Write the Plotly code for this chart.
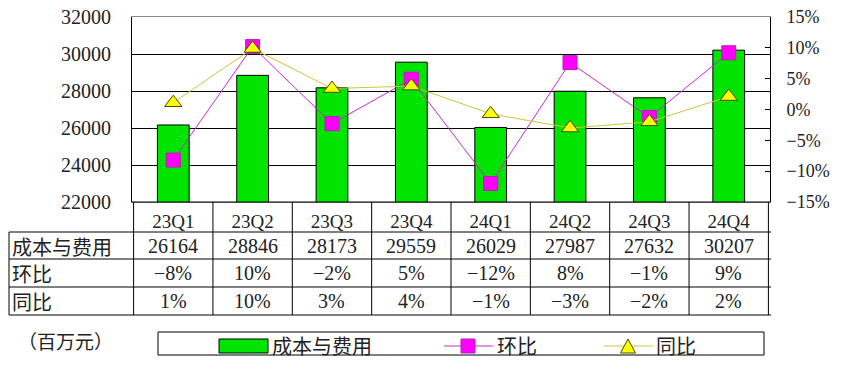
import plotly.graph_objects as go

W, H = 847, 375

quarters = ["23Q1", "23Q2", "23Q3", "23Q4", "24Q1", "24Q2", "24Q3", "24Q4"]
cost = [26164, 28846, 28173, 29559, 26029, 27987, 27632, 30207]
qoq = [-8.2, 10.2, -2.3, 4.9, -12.0, 7.6, -1.3, 9.2]
yoy = [1.1, 9.9, 3.4, 3.8, -0.7, -3.0, -2.0, 2.1]

row_labels = ["成本与费用", "环比", "同比"]
series_names = ["成本与费用", "环比", "同比"]
unit_label = "（百万元）"

GREEN = "#00e400"
MAG = "#ff00ff"
MAG_LINE = "#c828c8"
YEL = "#ffff00"
YEL_LINE = "#c8c83c"

NUM_FONT = "Liberation Serif, Noto Sans CJK SC"
CJK_FONT = "Noto Sans CJK SC"

# plot area in pixels
PL, PR, PT, PB = 132, 770, 17, 202


def px(x):
    return x / W


def py(y):
    return (H - y) / H


def pct(v):
    return f"{round(v):d}%".replace("-", "−")


fig = go.Figure()
fig.add_trace(go.Bar(x=quarters, y=cost, name=series_names[0],
                     marker=dict(color=GREEN, line=dict(color="black", width=1)),
                     yaxis="y"))
fig.add_trace(go.Scatter(x=quarters, y=qoq, name=series_names[1], mode="lines+markers",
                         line=dict(color=MAG_LINE, width=1),
                         marker=dict(symbol="square", size=14, color=MAG,
                                     line=dict(color="#b020b0", width=1)),
                         yaxis="y2"))
fig.add_trace(go.Scatter(x=quarters, y=yoy, name=series_names[2], mode="lines+markers",
                         line=dict(color=YEL_LINE, width=1),
                         marker=dict(symbol="triangle-up", size=15, color=YEL,
                                     line=dict(color="#4a4a00", width=1)),
                         yaxis="y2"))

shapes = []
annotations = []

# bottom black line of plot area / top of category row
shapes.append(dict(type="line", xref="paper", yref="paper", x0=px(PL), x1=px(PR),
                   y0=py(PB), y1=py(PB), line=dict(color="black", width=1)))

# table grid
row_ys = [232, 259, 287, 315]
for yy in row_ys:
    shapes.append(dict(type="line", xref="paper", yref="paper", x0=px(9), x1=px(771),
                       y0=py(yy), y1=py(yy), line=dict(color="black", width=1)))
for k in range(len(quarters) + 1):
    shapes.append(dict(type="line", xref="x", yref="paper", x0=k - 0.5, x1=k - 0.5,
                       y0=py(PB), y1=py(315), line=dict(color="black", width=1)))
shapes.append(dict(type="line", xref="paper", yref="paper", x0=px(9), x1=px(9),
                   y0=py(232), y1=py(315), line=dict(color="black", width=1)))

# table text
row_centers = [246, 273, 301]
row_values = [[str(v) for v in cost], [pct(v) for v in qoq], [pct(v) for v in yoy]]
for lab, yc, vals in zip(row_labels, row_centers, row_values):
    annotations.append(dict(xref="paper", yref="paper", x=px(10), y=py(yc), text=lab,
                            showarrow=False, xanchor="left", yanchor="middle",
                            font=dict(family=CJK_FONT, size=20, color="#222222")))
    for q, t in zip(quarters, vals):
        annotations.append(dict(xref="x", yref="paper", x=q, y=py(yc), text=t,
                                showarrow=False, xanchor="center", yanchor="middle",
                                font=dict(family=NUM_FONT, size=20, color="#222222")))

# unit label
annotations.append(dict(xref="paper", yref="paper", x=px(16), y=py(340), text=unit_label,
                        showarrow=False, xanchor="left", yanchor="middle",
                        font=dict(family=CJK_FONT, size=19, color="#222222")))

# legend box
shapes.append(dict(type="rect", xref="paper", yref="paper", x0=px(158), x1=px(764),
                   y0=py(355), y1=py(332), line=dict(color="black", width=1),
                   fillcolor="white"))
shapes.append(dict(type="rect", xref="paper", yref="paper", x0=px(219), x1=px(268),
                   y0=py(353), y1=py(339), line=dict(color="black", width=1),
                   fillcolor=GREEN))
shapes.append(dict(type="line", xref="paper", yref="paper", x0=px(444), x1=px(493),
                   y0=py(346), y1=py(346), line=dict(color=MAG_LINE, width=1)))
shapes.append(dict(type="rect", xref="paper", yref="paper", x0=px(461), x1=px(475),
                   y0=py(353), y1=py(339), line=dict(color="#b020b0", width=1),
                   fillcolor=MAG))
shapes.append(dict(type="line", xref="paper", yref="paper", x0=px(604), x1=px(653),
                   y0=py(346), y1=py(346), line=dict(color=YEL_LINE, width=1)))
shapes.append(dict(type="path", xref="paper", yref="paper",
                   path=f"M {px(620.5)},{py(353)} L {px(635.5)},{py(353)} L {px(628)},{py(339)} Z",
                   line=dict(color="#4a4a00", width=1), fillcolor=YEL))
for name, x0 in zip(series_names, [270, 495, 654]):
    annotations.append(dict(xref="paper", yref="paper", x=px(x0), y=py(345), text=name,
                            showarrow=False, xanchor="left", yanchor="middle",
                            font=dict(family=CJK_FONT, size=20, color="#222222")))

fig.update_layout(
    width=W, height=H, autosize=False,
    margin=dict(l=0, r=0, t=0, b=0, pad=0, autoexpand=False),
    paper_bgcolor="white", plot_bgcolor="white",
    showlegend=False, bargap=0.6,
    xaxis=dict(domain=[px(PL), px(PR)], type="category", showline=True, mirror=True,
               linecolor="#8c8c8c", linewidth=1, showgrid=False, ticks="",
               automargin=False,
               tickfont=dict(family=NUM_FONT, size=19, color="#222222"),
               ticklabelstandoff=2),
    yaxis=dict(domain=[py(PB), py(PT)], range=[22000, 32000], dtick=2000,
               showline=True, linecolor="black", linewidth=1, automargin=False,
               showgrid=True, gridcolor="black", gridwidth=1, zeroline=False,
               ticks="", tickformat="d",
               tickfont=dict(family=NUM_FONT, size=20, color="#222222"),
               ticklabelstandoff=16),
    yaxis2=dict(overlaying="y", side="right", range=[-15, 15], dtick=5,
                ticksuffix="%", showgrid=False, zeroline=False, automargin=False,
                showline=True, linecolor="black", linewidth=1,
                ticks="inside", ticklen=5, tickcolor="black",
                tickfont=dict(family=NUM_FONT, size=18, color="#222222"),
                ticklabelstandoff=12),
    shapes=shapes, annotations=annotations,
)

fig.write_html("out.html", config={"displayModeBar": False},
               post_script="document.body.style.margin='0';")
